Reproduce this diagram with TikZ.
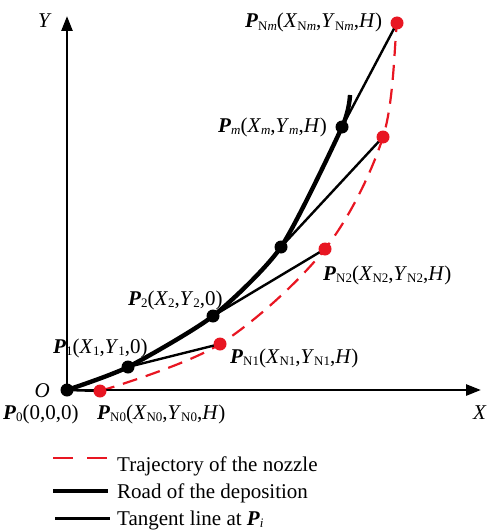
\documentclass[tikz,border=0pt]{standalone}
\usepackage{fontspec}
\setmainfont{Liberation Serif}
\usetikzlibrary{arrows.meta}
\definecolor{myred}{RGB}{232,22,34}
\newcommand{\bP}{\textbf{\textit{P}}}
\newcommand{\sbx}[1]{\raisebox{-0.28ex}{\fontsize{13}{13}\selectfont #1}}
\newcommand{\iv}[1]{\textit{#1}}
\begin{document}
\begin{tikzpicture}[x=1pt,y=-1pt,
  font=\fontsize{21}{25}\selectfont,
  lab/.style={anchor=base west, inner sep=0pt},
  bdot/.style={circle, fill=black, minimum size=13pt, inner sep=0pt},
  rdot/.style={circle, fill=myred, minimum size=13pt, inner sep=0pt},
  axis/.style={line width=2.6pt, -{Triangle[length=15pt,width=11pt]}},
  road/.style={line width=4.4pt},
  tangent/.style={line width=2.4pt},
  traj/.style={myred, line width=2.2pt, dash pattern=on 15pt off 9pt}]
\useasboundingbox (0,0) rectangle (489,532);
% points
\coordinate (P0) at (67,390);
\coordinate (P1) at (128,367);
\coordinate (P2) at (213,316);
\coordinate (P3) at (281,247);
\coordinate (Pm) at (342,127);
\coordinate (Pe) at (350,95);
\coordinate (N0) at (100,391);
\coordinate (N1) at (220,344);
\coordinate (N2) at (325,249);
\coordinate (N3) at (383,137);
\coordinate (Nm) at (397,23);
\coordinate (Ne) at (400,14);
\coordinate (Xe) at (481,390);
\coordinate (Ye) at (67,16);
% trajectory of nozzle
\draw[traj] plot[smooth, tension=0.55] coordinates {(N0) (N1) (N2) (N3) (Nm) (Ne)};
% road
\draw[road] plot[smooth, tension=0.4] coordinates {(P0) (P1) (P2) (P3) (Pm) (Pe)};
% tangents
\draw[tangent] (P0) -- (N0);
\draw[tangent] (P1) -- (N1);
\draw[tangent] (P2) -- (N2);
\draw[tangent] (P3) -- (N3);
\draw[tangent] (Pm) -- (Nm);
% axes
\draw[axis] (P0) -- (Xe);
\draw[axis] (P0) -- (Ye);
% dots
\node[rdot] (dN0) at (N0) {};
\node[rdot] (dN1) at (N1) {};
\node[rdot] (dN2) at (N2) {};
\node[rdot] (dN3) at (N3) {};
\node[rdot] (dNm) at (Nm) {};
\node[bdot] (dP0) at (P0) {};
\node[bdot] (dP1) at (P1) {};
\node[bdot] (dP2) at (P2) {};
\node[bdot] (dP3) at (P3) {};
\node[bdot] (dPm) at (Pm) {};
% labels
\node[lab, anchor=base east] (lO) at (50,397) {\iv{O}};
\node[lab] (lX) at (473,419) {\iv{X}};
\node[lab] (lY) at (38,28) {\iv{Y}};
\node[lab] (l0) at (3,419) {\bP\sbx{0}(0,0,0)};
\node[lab] (lN0) at (97,419) {\bP\sbx{N0}(\iv{X}\sbx{N0},\iv{Y}\sbx{N0},\iv{H})};
\node[lab] (l1) at (53,353) {\bP\sbx{1}(\iv{X}\sbx{1},\iv{Y}\sbx{1},0)};
\node[lab] (lN1) at (230,363) {\bP\sbx{N1}(\iv{X}\sbx{N1},\iv{Y}\sbx{N1},\iv{H})};
\node[lab] (l2) at (128,305) {\bP\sbx{2}(\iv{X}\sbx{2},\iv{Y}\sbx{2},0)};
\node[lab] (lN2) at (323,280) {\bP\sbx{N2}(\iv{X}\sbx{N2},\iv{Y}\sbx{N2},\iv{H})};
\node[lab] (lm) at (218,132) {\bP\sbx{\iv{m}}(\iv{X}\sbx{\iv{m}},\iv{Y}\sbx{\iv{m}},\iv{H})};
\node[lab] (lNm) at (245,28) {\bP\sbx{N\iv{m}}(\iv{X}\sbx{N\iv{m}},\iv{Y}\sbx{N\iv{m}},\iv{H})};
% legend
\coordinate (a1) at (53,458); \coordinate (b1) at (108,458);
\coordinate (a2) at (53,491); \coordinate (b2) at (108,491);
\coordinate (a3) at (55,518); \coordinate (b3) at (110,518);
\draw[myred, line width=2pt, dash pattern=on 20pt off 14pt] (a1) -- (b1);
\draw[road] (a2) -- (b2);
\draw[line width=3pt] (a3) -- (b3);
\node[lab] (t1) at (117,471) {Trajectory of the nozzle};
\node[lab] (t2) at (117,498) {Road of the deposition};
\node[lab] (t3) at (117,525) {Tangent line at \bP\sbx{\iv{i}}};
\end{tikzpicture}
\end{document}
